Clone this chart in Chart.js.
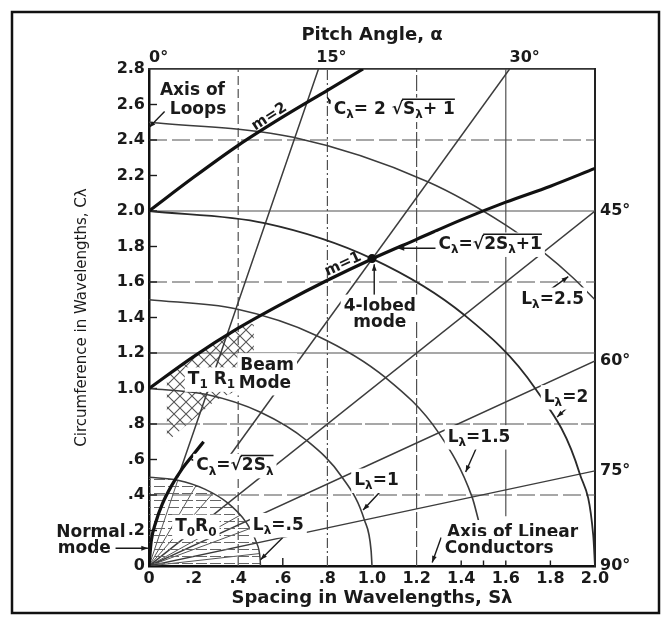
<!DOCTYPE html>
<html>
<head>
<meta charset="utf-8">
<script src="https://cdn.jsdelivr.net/npm/chart.js@4.4.0/dist/chart.umd.min.js"></script>
<style>
  html, body { margin: 0; padding: 0; background: #fff; }
</style>
</head>
<body>
<canvas id="helixChart" width="667" height="618"></canvas>
<script>
// axis ticks
const sTicks = [0, 0.2, 0.4, 0.6, 0.8, 1.0, 1.2, 1.4, 1.6, 1.8, 2.0];
const sTickLabels = ['0', '.2', '.4', '.6', '.8', '1.0', '1.2', '1.4', '1.6', '1.8', '2.0'];
const cTicks = [0, 0.2, 0.4, 0.6, 0.8, 1.0, 1.2, 1.4, 1.6, 1.8, 2.0, 2.2, 2.4, 2.6, 2.8];
const cTickLabels = ['0', '.2', '.4', '.6', '.8', '1.0', '1.2', '1.4', '1.6', '1.8', '2.0', '2.2', '2.4', '2.6', '2.8'];
const pitchTopAt = [0, 0.75, 1.617];
const pitchTopLabels = ['0°', '15°', '30°'];
const pitchRightAt = [2.0, 1.155, 0.536, 0];
const pitchRightLabels = ['45°', '60°', '75°', '90°'];

// curves, as [Sλ, Cλ]
const modeM2 = [[0, 2.0], [0.2, 2.19], [0.4, 2.37], [0.6, 2.53], [0.8, 2.68], [0.96, 2.8]];
const modeM1 = [[0, 1.0], [0.2, 1.18], [0.4, 1.34], [0.6, 1.48], [0.8, 1.61], [1.0, 1.73], [1.2, 1.84], [1.4, 1.95], [1.6, 2.05], [1.8, 2.14], [2.0, 2.24]];
const normalLimit = [[0, 0], [0.01, 0.14], [0.03, 0.245], [0.06, 0.35], [0.1, 0.45], [0.15, 0.55], [0.2, 0.63], [0.245, 0.70]];
const arcL05 = [[0, 0.5], [0.129, 0.483], [0.25, 0.433], [0.354, 0.354], [0.433, 0.25], [0.483, 0.129], [0.498, 0.044], [0.5, 0]];
const arcL1 = [[0, 1], [0.259, 0.966], [0.5, 0.866], [0.707, 0.707], [0.866, 0.5], [0.966, 0.259], [0.996, 0.087], [1, 0]];
const arcL15 = [[0, 1.5], [0.388, 1.449], [0.75, 1.299], [1.061, 1.061], [1.299, 0.75], [1.449, 0.388], [1.479, 0.25]];
const arcL2 = [[0, 2], [0.518, 1.932], [1, 1.732], [1.414, 1.414], [1.732, 1], [1.932, 0.518], [1.992, 0.174], [2, 0]];
const arcL25 = [[0, 2.5], [0.647, 2.415], [1.25, 2.165], [1.6, 1.921], [1.768, 1.768], [1.9, 1.625], [2, 1.5]];
const pitch15 = [[0.13, 0.5], [0.76, 2.8]];
const pitch30 = [[0.35, 0.6], [1.617, 2.8]];
const pitch45 = [[0, 0], [2.0, 2.0]];
const pitch60 = [[0, 0], [2.0, 1.155]];
const pitch75 = [[0, 0], [2.0, 0.536]];
const fanEnds = [[0.129, 0.483], [0.211, 0.453], [0.287, 0.41], [0.41, 0.287], [0.453, 0.211], [0.495, 0.07]];
const fourLobed = [[1.0, 1.732]];
const regionT1R1 = [[0.08, 0.70], [0.08, 1.07], [0.2, 1.18], [0.32, 1.28], [0.44, 1.37], [0.47, 1.36], [0.47, 1.03], [0.30, 0.935], [0.08, 0.70]];

const FONT = 'DejaVu Sans';
const INK = '#1a1a1a';
const LINE = '#3c3c3c';

const pts = arr => arr.map(([x, y]) => ({ x, y }));

function curve(arr, width, color, extra) {
    return Object.assign({
        data: pts(arr),
        showLine: true,
        borderColor: color,
        borderWidth: width,
        pointRadius: 0,
        fill: false,
        cubicInterpolationMode: 'monotone'
    }, extra || {});
}

function makeHatch(kind) {
    const c = document.createElement('canvas');
    const g = c.getContext('2d');
    if (kind === 'cross') {
        c.width = 12; c.height = 12;
        g.strokeStyle = '#555';
        g.lineWidth = 1.1;
        g.beginPath();
        g.moveTo(-1, -1); g.lineTo(13, 13);
        g.moveTo(-1, 13); g.lineTo(13, -1);
        g.stroke();
    } else {
        c.width = 14; c.height = 7;
        g.strokeStyle = '#666';
        g.lineWidth = 1;
        g.beginPath();
        g.moveTo(0, 3.5); g.lineTo(11, 3.5);
        g.stroke();
    }
    return g.createPattern(c, 'repeat');
}

// text notes and pointers, placed in (Sλ, Cλ)
const notes = [
    { text: 'Axis of', at: [0.195, 2.68] },
    { text: 'Loops', at: [0.22, 2.57] },
    { text: 'm=2', at: [0.54, 2.53], rot: -33 },
    { text: 'C_λ= 2 √{S_λ+ 1}', at: [1.1, 2.57], bg: true },
    { text: 'm=1', at: [0.87, 1.70], rot: -25 },
    { text: 'C_λ=√{2S_λ+1}', at: [1.53, 1.81], bg: true },
    { text: '4-lobed', at: [1.035, 1.46], bg: true },
    { text: 'mode', at: [1.035, 1.37], bg: true },
    { text: 'L_λ=2.5', at: [1.81, 1.50], bg: true },
    { text: 'Beam', at: [0.53, 1.13], bg: true },
    { text: 'Mode', at: [0.52, 1.03], bg: true },
    { text: 'T_1 R_1', at: [0.28, 1.05], bg: true },
    { text: 'C_λ=√{2S_λ}', at: [0.385, 0.563], bg: true },
    { text: 'L_λ=1.5', at: [1.48, 0.725], bg: true },
    { text: 'L_λ=2', at: [1.87, 0.95], bg: true },
    { text: 'L_λ=1', at: [1.02, 0.48], bg: true },
    { text: 'L_λ=.5', at: [0.58, 0.23], bg: true },
    { text: 'T_0R_0', at: [0.21, 0.22], bg: true },
    { text: 'Normal', at: [-0.105, 0.19], align: 'right' },
    { text: 'mode', at: [-0.29, 0.10] },
    { text: 'Axis of Linear', at: [1.63, 0.19], bg: true },
    { text: 'Conductors', at: [1.57, 0.10], bg: true }
];

const pointers = [
    { from: [0.07, 2.56], to: [0.0, 2.47] },
    { from: [0.83, 2.58], to: [0.80, 2.64] },
    { from: [1.29, 1.79], to: [1.115, 1.79] },
    { from: [1.01, 1.52], to: [1.01, 1.70] },
    { from: [1.785, 1.544], to: [1.88, 1.63] },
    { from: [0.505, 1.14], to: [0.475, 1.135] },
    { from: [0.215, 0.59], to: [0.19, 0.60] },
    { from: [1.47, 0.67], to: [1.42, 0.53] },
    { from: [1.90, 0.92], to: [1.83, 0.84] },
    { from: [1.045, 0.43], to: [0.96, 0.315] },
    { from: [0.6, 0.16], to: [0.5, 0.035] },
    { from: [-0.15, 0.10], to: [-0.005, 0.10] },
    { from: [1.31, 0.16], to: [1.27, 0.02] }
];

const gridLook = [
    { axis: 'x', at: 0.4, dash: [9, 4] },
    { axis: 'x', at: 0.8, dash: [10, 3, 2, 3] },
    { axis: 'x', at: 1.2, dash: [16, 3] },
    { axis: 'x', at: 1.6, dash: [], from: 0.28 },
    { axis: 'y', at: 2.4, dash: [18, 5] },
    { axis: 'y', at: 2.0, dash: [] },
    { axis: 'y', at: 1.6, dash: [18, 5] },
    { axis: 'y', at: 1.2, dash: [] },
    { axis: 'y', at: 0.8, dash: [24, 3] },
    { axis: 'y', at: 0.4, dash: [18, 5] }
];
const innerBottomTicks = [0.6, 1.4, 1.5, 1.6, 1.8];

// tiny markup: _x subscript, {..} overline (square root bar)
function layoutRich(ctx, str, size) {
    const toks = [];
    let over = false;
    for (let i = 0; i < str.length; i++) {
        const ch = str[i];
        if (ch === '{') { over = true; continue; }
        if (ch === '}') { over = false; continue; }
        if (ch === '_') { toks.push({ t: str[i + 1], sub: true, over }); i++; continue; }
        toks.push({ t: ch, sub: false, over });
    }
    let total = 0;
    toks.forEach(k => {
        k.size = k.sub ? Math.round(size * 0.72) : size;
        ctx.font = `bold ${k.size}px "${FONT}"`;
        k.w = ctx.measureText(k.t).width;
        total += k.w;
    });
    return { toks, total };
}

function drawRich(ctx, str, x, y, size, align, bg) {
    const { toks, total } = layoutRich(ctx, str, size);
    let cx = align === 'left' ? x : align === 'right' ? x - total : x - total / 2;
    if (bg) {
        ctx.fillStyle = '#fff';
        ctx.fillRect(cx - 3, y - size * 0.72, total + 6, size * 1.44);
    }
    ctx.fillStyle = INK;
    ctx.strokeStyle = INK;
    ctx.textAlign = 'left';
    ctx.textBaseline = 'middle';
    let overStart = null;
    toks.forEach((k, i) => {
        ctx.font = `bold ${k.size}px "${FONT}"`;
        ctx.fillText(k.t, cx, k.sub ? y + size * 0.32 : y);
        if (k.over && overStart === null) overStart = cx;
        cx += k.w;
        if (k.over && (i === toks.length - 1 || !toks[i + 1].over)) {
            ctx.lineWidth = 1.5;
            ctx.beginPath();
            ctx.moveTo(overStart - 1, y - size * 0.62);
            ctx.lineTo(cx, y - size * 0.62);
            ctx.stroke();
            overStart = null;
        }
    });
}

const helixDecor = {
    id: 'helixDecor',
    beforeDatasetsDraw(chart) {
        const { ctx, scales: { x, y } } = chart;
        ctx.save();
        ctx.strokeStyle = '#505050';
        ctx.lineWidth = 1.2;
        gridLook.forEach(g => {
            ctx.setLineDash(g.dash);
            ctx.beginPath();
            if (g.axis === 'x') {
                const px = x.getPixelForValue(g.at);
                ctx.moveTo(px, y.getPixelForValue(g.from || 0));
                ctx.lineTo(px, y.getPixelForValue(2.8));
            } else {
                const py = y.getPixelForValue(g.at);
                ctx.moveTo(x.getPixelForValue(0), py);
                ctx.lineTo(x.getPixelForValue(2.0), py);
            }
            ctx.stroke();
        });
        ctx.setLineDash([]);
        ctx.strokeStyle = INK;
        ctx.lineWidth = 1.4;
        const x0 = x.getPixelForValue(0);
        const yb = y.getPixelForValue(0);
        cTicks.slice(1, -1).forEach(v => {
            const py = y.getPixelForValue(v);
            ctx.beginPath(); ctx.moveTo(x0, py); ctx.lineTo(x0 + 8, py); ctx.stroke();
        });
        innerBottomTicks.forEach(v => {
            const px = x.getPixelForValue(v);
            ctx.beginPath(); ctx.moveTo(px, yb); ctx.lineTo(px, yb - 8); ctx.stroke();
        });
        ctx.restore();
    },
    afterDatasetsDraw(chart) {
        const { ctx, scales: { x, y } } = chart;
        ctx.save();
        pointers.forEach(p => {
            const x1 = x.getPixelForValue(p.from[0]), y1 = y.getPixelForValue(p.from[1]);
            const x2 = x.getPixelForValue(p.to[0]), y2 = y.getPixelForValue(p.to[1]);
            const a = Math.atan2(y2 - y1, x2 - x1);
            ctx.strokeStyle = INK;
            ctx.fillStyle = INK;
            ctx.lineWidth = 1.4;
            ctx.beginPath(); ctx.moveTo(x1, y1); ctx.lineTo(x2, y2); ctx.stroke();
            ctx.beginPath();
            ctx.moveTo(x2, y2);
            ctx.lineTo(x2 - 7 * Math.cos(a - 0.35), y2 - 7 * Math.sin(a - 0.35));
            ctx.lineTo(x2 - 7 * Math.cos(a + 0.35), y2 - 7 * Math.sin(a + 0.35));
            ctx.closePath();
            ctx.fill();
        });
        notes.forEach(n => {
            const px = x.getPixelForValue(n.at[0]);
            const py = y.getPixelForValue(n.at[1]);
            if (n.rot) {
                ctx.save();
                ctx.translate(px, py);
                ctx.rotate(n.rot * Math.PI / 180);
                drawRich(ctx, n.text, 0, 0, 15, 'center', false);
                ctx.restore();
            } else {
                drawRich(ctx, n.text, px, py, 17, n.align || 'center', n.bg);
            }
        });
        ctx.restore();
    },
    afterDraw(chart) {
        const ctx = chart.ctx;
        ctx.save();
        ctx.strokeStyle = '#111';
        ctx.lineWidth = 2.5;
        ctx.strokeRect(12, 12, 647, 601);
        ctx.restore();
    }
};

const tickFont = { family: FONT, size: 16, weight: 'bold' };
const titleFont = { family: FONT, size: 18, weight: 'bold' };

const datasets = [
    curve(modeM2, 3.2, '#111'),
    curve(modeM1, 3.2, '#111'),
    curve(normalLimit, 3.2, '#111'),
    { data: pts(fourLobed), showLine: false, pointRadius: 4.5, pointBackgroundColor: '#111', pointBorderWidth: 0 },
    curve(arcL05, 1.5, LINE, { fill: 'origin', backgroundColor: makeHatch('lines') }),
    curve(arcL1, 1.6, LINE),
    curve(arcL15, 1.6, LINE),
    curve(arcL2, 1.8, '#2a2a2a'),
    curve(arcL25, 1.5, LINE),
    curve(pitch15, 1.5, LINE),
    curve(pitch30, 1.5, LINE),
    curve(pitch45, 1.5, LINE),
    curve(pitch60, 1.4, LINE),
    curve(pitch75, 1.4, LINE),
    ...fanEnds.map(end => curve([[0, 0], end], 1, '#555')),
    curve(regionT1R1, 0, 'rgba(0,0,0,0)', { fill: 'shape', backgroundColor: makeHatch('cross'), cubicInterpolationMode: 'default', tension: 0 })
];

new Chart(document.getElementById('helixChart').getContext('2d'), {
    type: 'scatter',
    data: { datasets },
    plugins: [helixDecor],
    options: {
        responsive: false,
        devicePixelRatio: 1,
        animation: false,
        layout: { padding: 0 },
        plugins: {
            legend: { display: false },
            tooltip: { enabled: false }
        },
        scales: {
            x: {
                type: 'linear', position: 'bottom', min: 0, max: 2.0,
                afterBuildTicks: s => { s.ticks = sTicks.map(v => ({ value: v })); },
                afterFit: s => { s.height = 52; },
                ticks: { callback: (v, i) => sTickLabels[i], font: tickFont, color: INK, padding: 3, maxRotation: 0, autoSkip: false },
                grid: { display: false, drawTicks: false },
                border: { display: true, color: '#111', width: 2.5 },
                title: { display: true, text: 'Spacing in Wavelengths, Sλ', font: titleFont, color: INK, padding: { top: 0, bottom: 9 } }
            },
            y: {
                type: 'linear', position: 'left', min: 0, max: 2.8,
                afterBuildTicks: s => { s.ticks = cTicks.map(v => ({ value: v })); },
                afterFit: s => { s.width = 149; },
                ticks: { callback: (v, i) => cTickLabels[i], font: tickFont, color: INK, padding: 4, autoSkip: false },
                grid: { display: false, drawTicks: false },
                border: { display: true, color: '#111', width: 2.5 },
                title: { display: true, text: 'Circumference in Wavelengths, Cλ', font: { family: FONT, size: 15 }, color: INK, padding: { top: 73, bottom: 0 } }
            },
            x2: {
                type: 'linear', position: 'top', min: 0, max: 2.0,
                afterBuildTicks: s => { s.ticks = pitchTopAt.map(v => ({ value: v })); },
                afterFit: s => { s.height = 69; },
                ticks: { callback: (v, i) => pitchTopLabels[i], font: tickFont, color: INK, padding: 2, align: 'start', maxRotation: 0, autoSkip: false },
                grid: { display: false, drawTicks: false },
                border: { display: true, color: '#333', width: 1.8 },
                title: { display: true, text: 'Pitch Angle, α', font: titleFont, color: INK, padding: { top: 25, bottom: 0 } }
            },
            y2: {
                type: 'linear', position: 'right', min: 0, max: 2.8,
                afterBuildTicks: s => { s.ticks = pitchRightAt.map(v => ({ value: v })); },
                afterFit: s => { s.width = 72; },
                ticks: { callback: (v, i) => pitchRightLabels[i], font: tickFont, color: INK, padding: 5, autoSkip: false },
                grid: { display: false, drawTicks: false },
                border: { display: true, color: '#222', width: 2 }
            }
        }
    }
});
</script>
</body>
</html>
